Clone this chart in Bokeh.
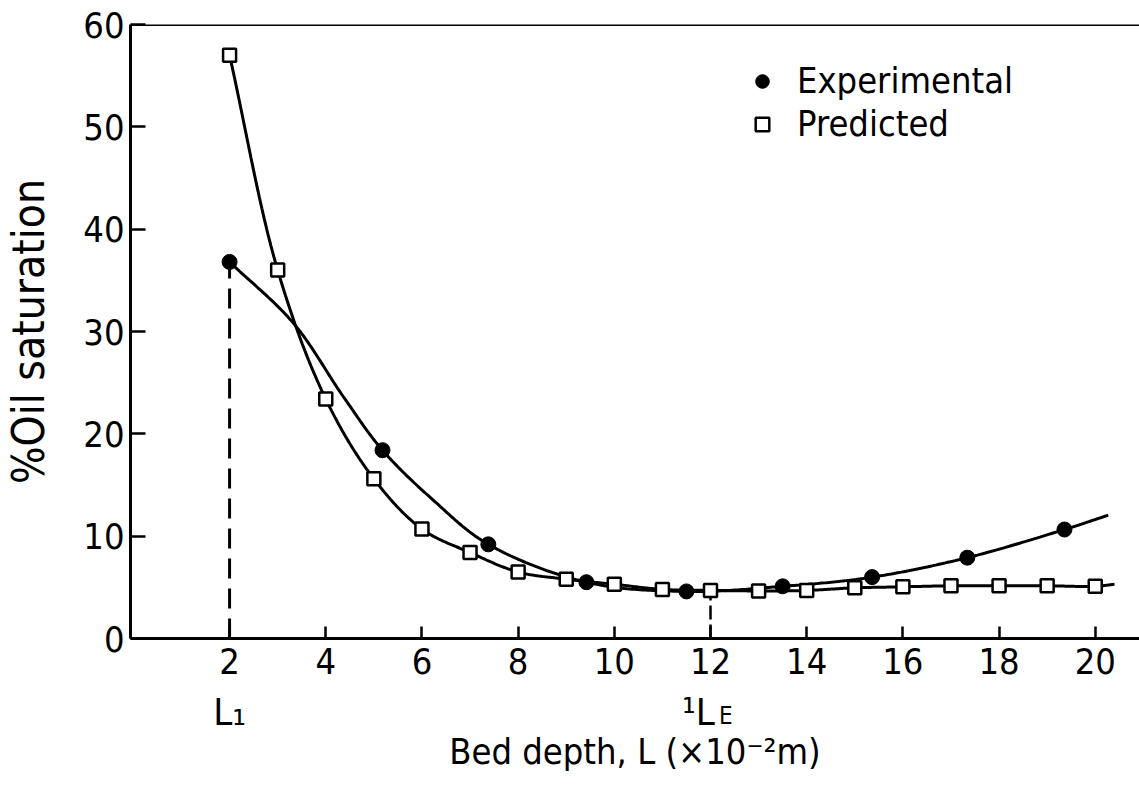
import numpy as np
from bokeh.plotting import figure
from bokeh.models import Range1d, FixedTicker, Span, Legend, LegendItem, LinearAxis
from bokeh.embed import file_html
from bokeh.resources import INLINE

FONT = "'Liberation Sans Narrow', 'DejaVu Sans Condensed', 'Liberation Sans', sans-serif"

# ---- data ----
pred_x = [2, 3, 4, 5, 6, 7, 8, 9, 10, 11, 12, 13, 14, 15, 16, 17, 18, 19, 20]
pred_y = [57.0, 36.0, 23.4, 15.6, 10.7, 8.4, 6.5, 5.8, 5.3, 4.8, 4.7, 4.65, 4.7,
          4.95, 5.05, 5.15, 5.15, 5.15, 5.1]
exp_x = [2.0, 5.18, 7.38, 9.42, 11.5, 13.5, 15.36, 17.34, 19.36]
exp_y = [36.8, 18.4, 9.2, 5.5, 4.6, 5.1, 6.0, 7.9, 10.65]

# traced points of the drawn smooth curves
pred_curve_x = pred_x + [20.4]
pred_curve_y = pred_y + [5.3]
exp_curve_x = [2.0, 3.33, 4.37, 5.18, 6.24, 7.38, 9.42, 11.5, 13.5, 15.36, 17.34, 19.36, 20.27]
exp_curve_y = [36.8, 30.8, 23.6, 18.4, 13.5, 9.2, 5.5, 4.6, 5.1, 6.0, 7.9, 10.65, 12.05]

x_ticks = [2, 4, 6, 8, 10, 12, 14, 16, 18, 20]
y_ticks = [0, 10, 20, 30, 40, 50, 60]

L1_x = 2       # marked bed depth L1
LE_x = 12      # marked bed depth L_E
mark_ticks = [2, 11.75]
mark_labels = {2: "L\u2081", 11.75: "\u00b9L"}
sub_ticks = [12.32]
sub_labels = {12.32: "E"}


def smooth(xs, ys, n=40, sx=48.1, sy=10.24, alpha=0.5):
    """Centripetal Catmull-Rom through the traced points (scaled to screen aspect)."""
    P = np.column_stack([np.asarray(xs, float) * sx, np.asarray(ys, float) * sy])
    P = np.vstack([2 * P[0] - P[1], P, 2 * P[-1] - P[-2]])
    out = []
    for i in range(1, len(P) - 2):
        p0, p1, p2, p3 = P[i - 1], P[i], P[i + 1], P[i + 2]
        t0 = 0.0
        t1 = t0 + np.linalg.norm(p1 - p0) ** alpha
        t2 = t1 + np.linalg.norm(p2 - p1) ** alpha
        t3 = t2 + np.linalg.norm(p3 - p2) ** alpha
        t = np.linspace(t1, t2, n)[:, None]
        A1 = (t1 - t) / (t1 - t0) * p0 + (t - t0) / (t1 - t0) * p1
        A2 = (t2 - t) / (t2 - t1) * p1 + (t - t1) / (t2 - t1) * p2
        A3 = (t3 - t) / (t3 - t2) * p2 + (t - t2) / (t3 - t2) * p3
        B1 = (t2 - t) / (t2 - t0) * A1 + (t - t0) / (t2 - t0) * A2
        B2 = (t3 - t) / (t3 - t1) * A2 + (t - t1) / (t3 - t1) * A3
        C = (t2 - t) / (t2 - t1) * B1 + (t - t1) / (t2 - t1) * B2
        out.append(C if i == 1 else C[1:])
    C = np.vstack(out)
    return C[:, 0] / sx, C[:, 1] / sy


p = figure(width=1139, height=786, output_backend="svg", toolbar_location=None,
           x_range=Range1d(-0.06, 20.92), y_range=Range1d(0, 60),
           min_border_left=130, min_border_right=0, min_border_top=24,
           min_border_bottom=148)
p.outline_line_color = None
p.xgrid.visible = False
p.ygrid.visible = False
p.background_fill_color = "white"
p.border_fill_color = "white"


def style(ax):
    ax.axis_line_width = 3
    ax.axis_line_color = "black"
    ax.major_tick_line_width = 2.5
    ax.major_tick_out = 0
    ax.minor_tick_line_color = None
    ax.major_label_text_font = FONT
    ax.major_label_text_color = "black"
    ax.axis_label_text_font = FONT
    ax.axis_label_text_font_style = "normal"
    ax.axis_label_text_color = "black"


xa = p.xaxis[0]
ya = p.yaxis[0]
style(xa)
style(ya)

xa.ticker = FixedTicker(ticks=x_ticks)
xa.major_tick_in = 12
xa.major_label_text_font_size = "36px"
xa.major_label_standoff = 9

ya.ticker = FixedTicker(ticks=y_ticks)
ya.major_tick_in = 15
ya.major_label_text_font_size = "36px"
ya.major_label_standoff = 6
ya.axis_label = "%Oil saturation"
ya.axis_label_text_font_size = "44px"
ya.axis_label_standoff = 26

# second row of labels under the axis: L1 and L_E
xa2 = LinearAxis(ticker=FixedTicker(ticks=mark_ticks), major_label_overrides=mark_labels)
style(xa2)
xa2.axis_line_color = None
xa2.major_tick_line_color = None
xa2.major_tick_in = 0
xa2.major_label_text_font_size = "38px"
xa2.major_label_standoff = 13
p.add_layout(xa2, "below")

# subscript E and the axis title
xa3 = LinearAxis(ticker=FixedTicker(ticks=sub_ticks), major_label_overrides=sub_labels)
style(xa3)
xa3.axis_line_color = None
xa3.major_tick_line_color = None
xa3.major_tick_in = 0
xa3.major_label_text_font_size = "24px"
xa3.major_label_standoff = -35
xa3.axis_label = "Bed depth, L (\u00d710\u207b\u00b2m)"
xa3.axis_label_text_font_size = "36px"
xa3.axis_label_standoff = -2
p.add_layout(xa3, "below")

# top frame line
p.add_layout(Span(location=60, dimension="width", line_color="black", line_width=3))

# dashed markers at L1 and L_E
p.segment(x0=[L1_x], y0=[0], x1=[L1_x], y1=[exp_y[exp_x.index(L1_x)]],
          line_color="black", line_width=3, line_dash="20 10")
p.segment(x0=[LE_x], y0=[0], x1=[LE_x], y1=[pred_y[pred_x.index(LE_x)]],
          line_color="black", line_width=2.5, line_dash="14 5")

# smooth curves
ex, ey = smooth(exp_curve_x, exp_curve_y)
px_, py_ = smooth(pred_curve_x, pred_curve_y)
p.line(ex, ey, line_color="black", line_width=3)
p.line(px_, py_, line_color="black", line_width=3)

r_exp = p.scatter(exp_x, exp_y, marker="circle", size=15, fill_color="black",
                  line_color="black")
r_pred = p.scatter(pred_x, pred_y, marker="square", size=13, fill_color="white",
                   line_color="black", line_width=2.5)

legend = Legend(items=[LegendItem(label="Experimental", renderers=[r_exp]),
                       LegendItem(label="Predicted", renderers=[r_pred])],
                location=(615, 494), padding=0, margin=0, spacing=2,
                border_line_color=None, background_fill_alpha=0,
                label_text_font=FONT, label_text_font_size="36px",
                label_text_color="black",
                label_standoff=18, glyph_width=34, glyph_height=34)
p.add_layout(legend)

open("out.html", "w").write(file_html(p, INLINE))
